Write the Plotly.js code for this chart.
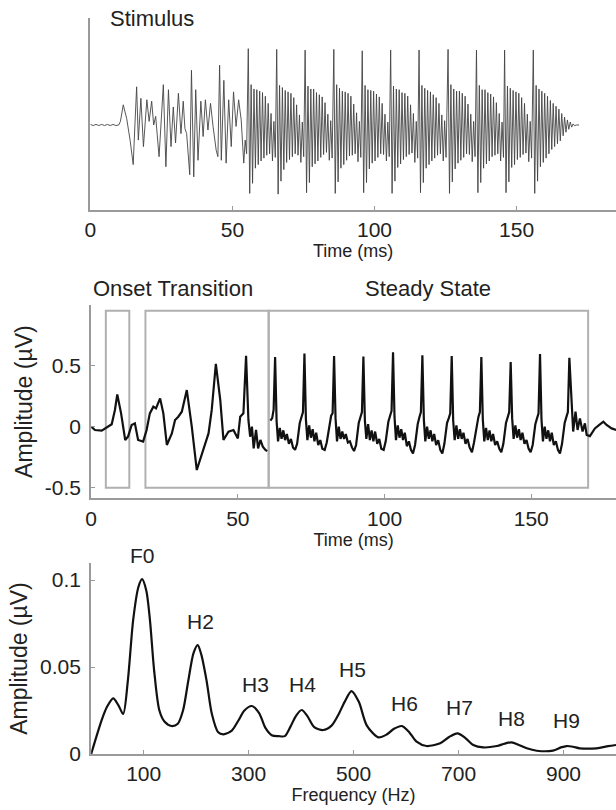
<!DOCTYPE html>
<html><head><meta charset="utf-8">
<script src="https://cdn.plot.ly/plotly-3.0.1.min.js"></script>
<style>html,body{margin:0;padding:0;background:#fff}#chart{width:616px;height:810px}</style>
</head><body><div id="chart"></div>
<script>
// ---------- Stimulus (top panel) ----------
const stimOnsetT = [0,1,2,3,4,5,6,7,8,9,10,10.6,11.6,12.8,14.0,15.1,15.7,16.3,16.9,17.8,18.7,19.9,20.7,21.6,22.3,23.0,24.2,25.7,26.6,27.5,28.4,29.2,30.0,31.0,31.9,32.7,33.3,33.9,35.0,35.6,36.4,37.1,37.9,38.9,39.7,40.5,41.4,42.3,43.2,44.3,44.9,45.5,46.1,47.0,47.8,48.7,49.6,50.4,51.3,52.2,53.1,54.0,54.5,55.0];
const stimOnsetV = [0.008,-0.008,0.008,-0.008,0.008,-0.008,0.008,-0.008,0.008,-0.008,0,0.05,0.28,0.09,-0.21,-0.55,0.0,0.53,-0.21,0.37,-0.30,0.35,0.05,0.33,0.0,0.12,-0.44,0.56,-0.58,0.49,-0.30,0.25,-0.25,0.44,-0.12,0.33,-0.05,-0.12,-0.69,0.76,-0.72,0.49,-0.49,0.33,-0.16,0.35,-0.07,0.30,-0.02,-0.35,-0.44,0.83,-0.49,0.62,-0.53,0.35,-0.30,0.46,-0.02,0.35,0.07,-0.53,-0.21,-0.40];
const stimSpikeT = [55.6,65.6,75.6,85.7,95.7,105.7,115.7,125.9,135.9,145.8,155.9];
const stimStep = 0.5;
const stimPeriodV = [
 [1.06,-0.95,0.56,-0.81,0.50,-0.60,0.49,-0.55,0.47,-0.50,0.45,-0.46,0.40,-0.42,0.30,-0.40,0.16,-0.50,0.05,-0.45],
 [1.05,-0.96,0.55,-0.78,0.52,-0.62,0.48,-0.52,0.46,-0.48,0.44,-0.44,0.38,-0.40,0.28,-0.42,0.14,-0.52,0.04,-0.44],
 [1.04,-0.94,0.54,-0.80,0.50,-0.58,0.50,-0.54,0.45,-0.50,0.42,-0.45,0.39,-0.41,0.31,-0.38,0.15,-0.49,0.06,-0.46],
 [1.05,-0.95,0.56,-0.79,0.51,-0.60,0.47,-0.55,0.46,-0.49,0.44,-0.43,0.40,-0.42,0.29,-0.40,0.17,-0.51,0.05,-0.45],
 [1.03,-0.94,0.55,-0.80,0.49,-0.61,0.48,-0.53,0.47,-0.50,0.43,-0.45,0.39,-0.40,0.30,-0.41,0.15,-0.50,0.04,-0.44],
 [1.04,-0.95,0.54,-0.78,0.50,-0.59,0.49,-0.54,0.45,-0.48,0.44,-0.44,0.40,-0.41,0.28,-0.39,0.16,-0.52,0.05,-0.46],
 [1.04,-0.94,0.55,-0.80,0.51,-0.60,0.48,-0.55,0.46,-0.50,0.42,-0.46,0.38,-0.42,0.30,-0.40,0.14,-0.50,0.06,-0.45],
 [1.05,-0.95,0.56,-0.79,0.50,-0.61,0.47,-0.53,0.47,-0.49,0.44,-0.45,0.40,-0.40,0.29,-0.41,0.15,-0.51,0.05,-0.44],
 [1.04,-0.94,0.55,-0.80,0.49,-0.60,0.49,-0.54,0.45,-0.50,0.43,-0.44,0.39,-0.42,0.31,-0.40,0.16,-0.50,0.04,-0.45],
 [1.04,-0.94,0.54,-0.79,0.51,-0.59,0.48,-0.55,0.46,-0.48,0.44,-0.45,0.38,-0.41,0.30,-0.39,0.15,-0.51,0.05,-0.46],
 [1.04,-0.95,0.55,-0.78,0.50,-0.58,0.47,-0.52,0.44,-0.46,0.40,-0.40,0.34,-0.34,0.30,-0.30,0.26,-0.26,0.22,-0.22]
];
const stimTailT = [165.9,166.4,166.9,167.4,167.9,168.4,168.9,169.4,169.9,170.4,171.0,172.0];
const stimTailV = [0.16,-0.15,0.11,-0.10,0.07,-0.06,0.04,-0.03,0.015,-0.01,0,0];

// ---------- Response (middle panel) ----------
const respOnsetT = [0,1.3,3.6,5.8,7.0,8.1,8.9,10.2,11.6,12.6,13.8,14.9,16.0,17.7,18.9,20.0,21.2,22.1,23.5,24.6,25.8,27.5,28.6,29.7,30.9,32.6,34.3,36.0,37.7,40.0,41.1,42.5,44.0,45.1,46.8,48.5,50.0,50.8,51.9,52.8,53.6,54.2,54.8,55.4,56.2,56.9,57.7,58.5,59.4,60.0];
const respOnsetV = [0,-0.027,-0.033,0,0.02,0.137,0.265,0.109,-0.109,-0.08,0.014,0.027,-0.109,-0.122,-0.027,0.109,0.164,0.15,0.232,0.109,-0.150,-0.055,0.055,0.082,0.123,0.30,0,-0.355,-0.22,-0.055,0.137,0.515,0.22,-0.109,-0.041,-0.027,-0.096,0.082,0.109,0.58,0.055,-0.082,0,-0.178,-0.027,-0.178,-0.109,-0.164,-0.19,-0.20];
const respPeakT = [62.7,72.7,82.8,92.8,102.9,112.9,122.9,133.0,143.0,153.0,163.0];
const respOffsets = [-3.2,-2.5,-1.6,-1.0,-0.5,0,0.5,1.0,1.6,2.2,2.8,3.4,4.0,4.7,5.4,6.1];
const respPeriodV = [
 [null,null,0.05,0.07,0.14,0.57,0.05,-0.12,-0.01,-0.10,-0.03,-0.11,-0.06,-0.14,-0.10,-0.17],
 [-0.19,-0.14,0.03,0.08,0.12,0.60,0.06,-0.11,0.01,-0.09,-0.02,-0.12,-0.05,-0.15,-0.11,-0.18],
 [-0.19,-0.13,0.02,0.09,0.11,0.58,0.07,-0.12,0.0,-0.10,-0.04,-0.10,-0.06,-0.13,-0.12,-0.17],
 [-0.20,-0.15,0.03,0.07,0.12,0.575,0.05,-0.10,0.02,-0.11,-0.03,-0.12,-0.04,-0.14,-0.10,-0.18],
 [-0.19,-0.12,0.04,0.09,0.13,0.61,0.08,-0.11,0.01,-0.09,-0.02,-0.11,-0.05,-0.16,-0.12,-0.19],
 [-0.22,-0.15,0.02,0.08,0.12,0.585,0.06,-0.12,0.0,-0.10,-0.03,-0.12,-0.06,-0.15,-0.11,-0.19],
 [-0.22,-0.14,0.03,0.07,0.11,0.58,0.05,-0.11,0.01,-0.10,-0.02,-0.10,-0.05,-0.14,-0.10,-0.17],
 [-0.21,-0.13,0.02,0.08,0.12,0.57,0.06,-0.12,-0.01,-0.11,-0.03,-0.12,-0.06,-0.15,-0.12,-0.18],
 [-0.21,-0.14,0.03,0.09,0.12,0.53,0.07,-0.10,0.01,-0.09,-0.02,-0.11,-0.05,-0.14,-0.11,-0.18],
 [-0.21,-0.15,0.02,0.07,0.11,0.595,0.06,-0.12,0.0,-0.10,-0.03,-0.12,-0.05,-0.15,-0.12,-0.19],
 [-0.22,-0.14,0.03,0.08,0.12,0.565]
];
const respTailT = [163.8,164.3,165.1,165.8,166.6,167.5,168.3,168.9,170.0,171.7,173.2,174.6,175.7,177.4,179.0];
const respTailV = [0.137,-0.04,0.123,-0.027,0.068,-0.04,0.027,-0.068,-0.077,-0.014,0.014,0.041,0.014,-0.014,-0.027];
const boxStart = [5, 18.5, 60.5];
const boxEnd = [13, 60.5, 169.4];
const boxLow = -0.5, boxHigh = 0.95;

// ---------- Spectrum (bottom panel) ----------
const fftFreq = [0,10,20,30,42,52,61,70,80,90,97,105,112,120,130,140,153,165,175,185,195,203,210,220,230,242,252,268,280,292,306,320,332,344,357,369,380,390,401,412,425,442,458,470,483,496,510,525,547,563,577,592,606,620,639,665,682,698,713,728,747,773,788,801,815,830,849,880,895,906,918,931,963,985,1000];
const fftAmp = [0,0.010,0.0195,0.027,0.032,0.028,0.023,0.0425,0.077,0.096,0.1005,0.094,0.077,0.048,0.025,0.0185,0.0161,0.0174,0.025,0.042,0.058,0.0626,0.057,0.042,0.023,0.0125,0.0113,0.0135,0.019,0.025,0.0276,0.0235,0.015,0.0108,0.0103,0.0103,0.0159,0.0218,0.0253,0.0218,0.0155,0.0138,0.0163,0.022,0.030,0.0362,0.030,0.0165,0.0096,0.0112,0.0145,0.0161,0.0125,0.0071,0.0046,0.0062,0.0098,0.0119,0.0092,0.0052,0.0038,0.0046,0.006,0.0067,0.0052,0.0033,0.0019,0.002,0.0038,0.0046,0.0042,0.0033,0.0033,0.0045,0.0052];
const harmText = ['F0','H2','H3','H4','H5','H6','H7','H8','H9'];
const harmFreq = [97,208,313,403,498,597,702,801,906];
const harmAmp = [0.1144,0.076,0.0397,0.0397,0.0487,0.0293,0.0265,0.0202,0.0195];

// ---------- Ticks ----------
const timeTicks = [0,50,100,150];
const respTicks = [-0.5,0,0.5];
const respTickText = ['-0.5','0','0.5'];
const freqTicks = [100,300,500,700,900];
const ampTicks = [0,0.05,0.1];
const ampTickText = ['0','0.05','0.1'];

// ---------- Build series ----------
const sT = stimOnsetT.slice(), sV = stimOnsetV.slice();
stimSpikeT.forEach((p,i)=>stimPeriodV[i].forEach((v,k)=>{sT.push(+(p+k*stimStep).toFixed(2)); sV.push(v);}));
sT.push(...stimTailT); sV.push(...stimTailV);

const rT = respOnsetT.slice(), rV = respOnsetV.slice();
respPeakT.forEach((p,i)=>respPeriodV[i].forEach((v,j)=>{rT.push(+(p+respOffsets[j]).toFixed(2)); rV.push(v);}));
rT.push(...respTailT); rV.push(...respTailV);

const FONT = 'Liberation Sans, Arial, Helvetica, sans-serif';
const TXT = '#222';
const AX = '#9a9a9a';
const base = {showline:true, linecolor:AX, linewidth:2, ticks:'inside', ticklen:4, tickwidth:1, tickcolor:AX,
  showgrid:false, zeroline:false, fixedrange:true, tickfont:{family:FONT,size:21,color:TXT}};

const traces = [
  {x:sT, y:sV, xaxis:'x', yaxis:'y', mode:'lines', line:{color:'#444', width:0.9}, hoverinfo:'skip'},
  {x:rT, y:rV, xaxis:'x2', yaxis:'y2', mode:'lines', line:{color:'#111', width:2.2}, connectgaps:false, hoverinfo:'skip'},
  {x:fftFreq, y:fftAmp, xaxis:'x3', yaxis:'y3', mode:'lines', line:{color:'#111', width:2.2, shape:'spline', smoothing:0.8}, hoverinfo:'skip'}
];

const shapes = boxStart.map((s,i)=>({type:'rect', xref:'x2', yref:'y2', x0:s, x1:boxEnd[i], y0:boxLow, y1:boxHigh,
  line:{color:'#b0b0b0', width:2}, fillcolor:'rgba(0,0,0,0)', layer:'below'}));

const ann = [];
const mk = (o)=>Object.assign({showarrow:false, xanchor:'center', yanchor:'middle'}, o);
ann.push(mk({xref:'x', yref:'paper', x:21.6, y:0.9774, text:'Stimulus', font:{family:FONT,size:22,color:TXT}}));
ann.push(mk({xref:'x2', yref:'paper', x:27.8, y:0.6444, text:'Onset Transition', font:{family:FONT,size:22,color:TXT}}));
ann.push(mk({xref:'x2', yref:'paper', x:114.9, y:0.6444, text:'Steady State', font:{family:FONT,size:22,color:TXT}}));
harmText.forEach((t,i)=>{
  const off = harmAmp[i] > 0.1098;   // label above the axis top: place by paper coordinate
  ann.push(mk({xref:'x3', yref: off ? 'paper' : 'y3', x:harmFreq[i],
    y: off ? 0.0691 + (harmAmp[i]/0.1098)*(0.3049-0.0691) : harmAmp[i],
    text:t, font:{family:FONT,size:21,color:TXT}}));
});

const layout = {
  width:616, height:810, margin:{l:0,r:0,t:0,b:0}, paper_bgcolor:'#fff', plot_bgcolor:'#fff', showlegend:false,
  font:{family:FONT, color:TXT},
  xaxis:Object.assign({}, base, {domain:[0.1466,1], range:[0,185], tickvals:timeTicks, anchor:'y', ticklabelstandoff:0,
    title:{text:'Time (ms)', font:{family:FONT,size:18,color:TXT}, standoff:0}}),
  yaxis:Object.assign({}, base, {domain:[0.7407,0.9778], range:[-1.181,1.486], ticks:'', showticklabels:false, anchor:'x'}),
  xaxis2:Object.assign({}, base, {domain:[0.148,1], range:[0,178.9], tickvals:timeTicks, anchor:'y2', ticklabelstandoff:0,
    title:{text:'Time (ms)', font:{family:FONT,size:18,color:TXT}, standoff:2}}),
  yaxis2:Object.assign({}, base, {domain:[0.3848,0.6235], range:[-0.587,0.9975], tickvals:respTicks, ticktext:respTickText, anchor:'x2', ticklabelstandoff:4,
    title:{text:'Amplitude (µV)', font:{family:FONT,size:23,color:TXT}, standoff:6}}),
  xaxis3:Object.assign({}, base, {domain:[0.148,1], range:[0,1000], tickvals:freqTicks, anchor:'y3', ticklabelstandoff:0,
    title:{text:'Frequency (Hz)', font:{family:FONT,size:18,color:TXT}, standoff:2}}),
  yaxis3:Object.assign({}, base, {domain:[0.0691,0.3049], range:[0,0.1098], tickvals:ampTicks, ticktext:ampTickText, anchor:'x3', ticklabelstandoff:4,
    title:{text:'Amplitude (µV)', font:{family:FONT,size:23,color:TXT}, standoff:6}}),
  shapes:shapes, annotations:ann
};
Plotly.newPlot('chart', traces, layout, {staticPlot:true, displayModeBar:false});
</script></body></html>
